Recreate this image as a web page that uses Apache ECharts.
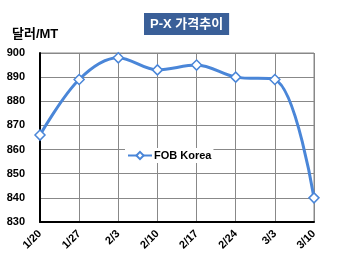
<!DOCTYPE html>
<html><head><meta charset="utf-8">
<script src="https://cdn.jsdelivr.net/npm/echarts@6/dist/echarts.min.js"></script>
<style>html,body{margin:0;padding:0;background:#fff}#c{width:350px;height:265px}</style>
</head><body><div id="c"></div>
<script>
var categories = ['1/20','1/27','2/3','2/10','2/17','2/24','3/3','3/10'];
var fobKorea = [866, 889, 898, 893, 895, 890, 889, 840];
var yMin = 830, yMax = 900, yStep = 10;
var seriesName = 'FOB Korea';
var titleText = 'P-X 가격추이';
var unitText = '달러/MT';

var chart = echarts.init(document.getElementById('c'), null, {renderer:'canvas'});
var FONT = 'Arial, "Liberation Sans", "Noto Sans CJK KR", sans-serif';
chart.setOption({
  animation: false,
  backgroundColor: '#fff',
  title: {
    text: titleText, left: 144, top: 13,
    backgroundColor: '#3A5F98', padding: [5, 6, 4, 6],
    textStyle: {color: '#fff', fontSize: 13, fontWeight: 'bold', fontFamily: FONT}
  },
  graphic: [{
    type: 'text', left: 12, top: 28,
    style: {text: unitText, font: 'bold 13px ' + FONT, fill: '#000'}
  }],
  legend: {
    data: [seriesName], left: 125, top: 148, itemWidth: 24, itemHeight: 9,
    backgroundColor: '#fff', padding: [2, 2, 2, 2], itemGap: 2,
    textStyle: {fontSize: 11, fontWeight: 'bold', color: '#000', fontFamily: FONT, padding: [0,0,0,-3]}
  },
  grid: {left: 40, right: 36, top: 53, bottom: 43, show: true, borderColor: '#888', borderWidth: 1},
  xAxis: {
    type: 'category', data: categories, boundaryGap: false,
    axisLine: {lineStyle: {color: '#000', width: 2}},
    axisTick: {show: false},
    axisLabel: {rotate: 45, fontSize: 11, fontWeight: 'bold', color: '#000', fontFamily: FONT, margin: 10},
    splitLine: {show: true, lineStyle: {color: '#888', width: 1}}
  },
  yAxis: {
    type: 'value', min: yMin, max: yMax, interval: yStep,
    axisLine: {show: true, lineStyle: {color: '#000', width: 2}},
    axisTick: {show: false},
    axisLabel: {fontSize: 11, fontWeight: 'bold', color: '#000', fontFamily: FONT, margin: 15},
    splitLine: {show: true, lineStyle: {color: '#888', width: 1}}
  },
  series: [{
    name: seriesName, type: 'line', data: fobKorea, smooth: 0.35,
    symbol: 'diamond', symbolSize: 10,
    lineStyle: {color: '#4A86D8', width: 3},
    itemStyle: {color: '#fff', borderColor: '#4A86D8', borderWidth: 1.5}
  }]
});
</script></body></html>
